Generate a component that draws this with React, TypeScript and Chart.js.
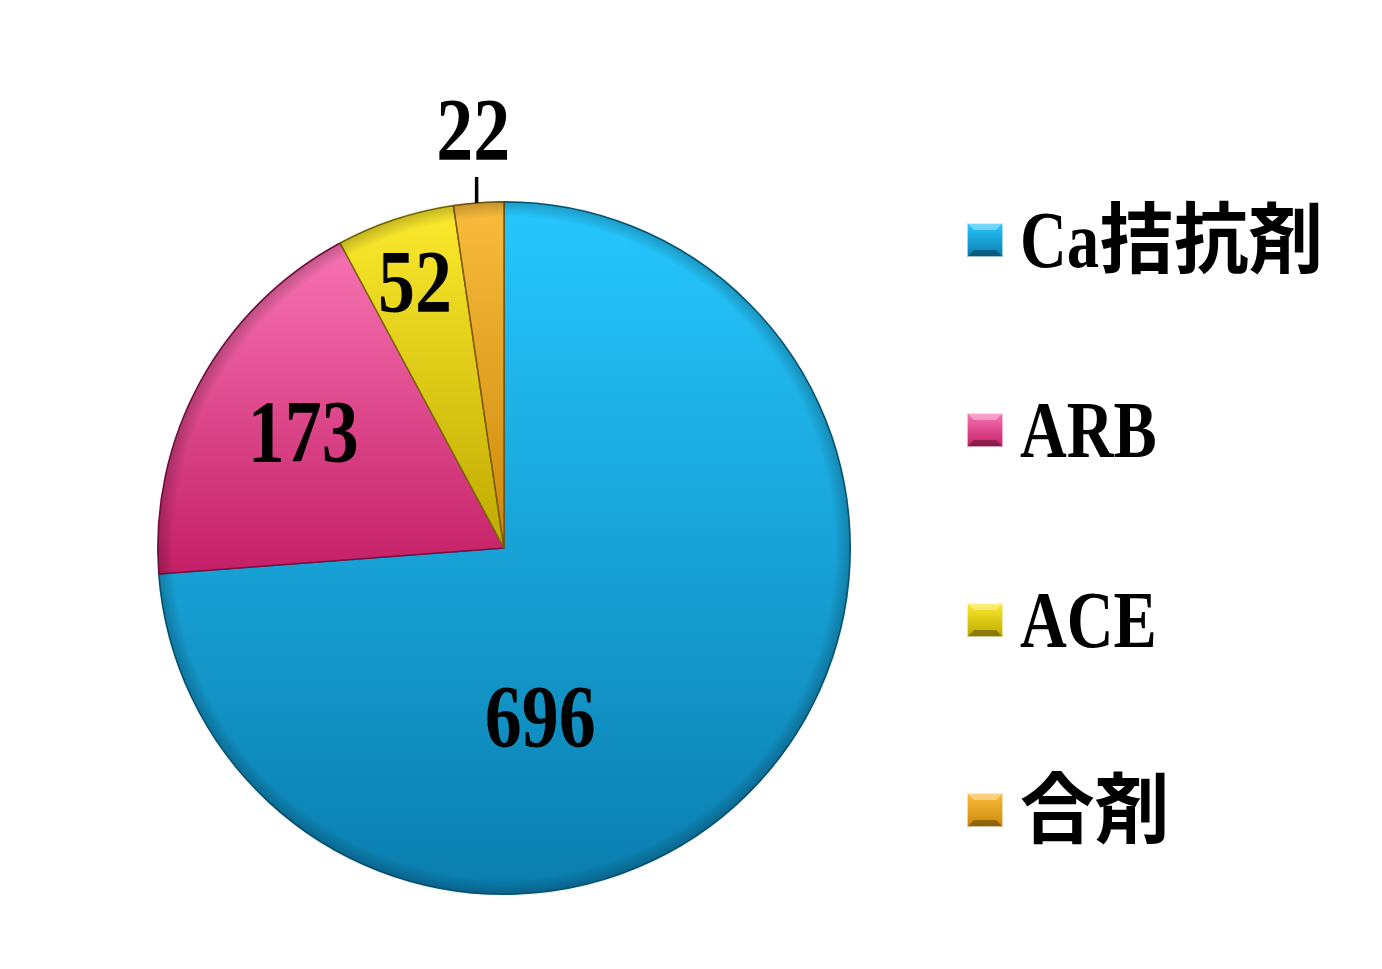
import React, { useEffect, useRef } from "react";
import { Chart, registerables } from "chart.js";

Chart.register(...registerables);

// ---- data ----
const categories = ["Ca拮抗剤", "ARB", "ACE", "合剤"];
const values = [696, 173, 52, 22];
const topColors = ["#26C8FF", "#F874B3", "#FCEA2E", "#F9BC3C"];
const bottomColors = ["#0A7DAE", "#C41F66", "#BFAA00", "#CC8A0C"];
const edgeColors = ["#06597c", "#7e0f40", "#7a6c00", "#7f5406"];

const W = 1382;
const H = 969;

const isCJK = (s: string) => /[\u3000-\u9fff\uff00-\uffef]/.test(s);

function drawMixed(ctx: CanvasRenderingContext2D, text: string, x: number, baseline: number) {
  const runs = text.match(/[\u3000-\u9fff\uff00-\uffef]+|[^\u3000-\u9fff\uff00-\uffef]+/g) || [];
  let cx = x;
  for (const run of runs) {
    const cjk = isCJK(run);
    const font = cjk ? 'bold 77px "Noto Sans CJK JP"' : 'bold 80px "Liberation Serif"';
    const sx = cjk ? 0.97 : 0.81;
    ctx.save();
    ctx.font = font;
    ctx.textBaseline = "alphabetic";
    ctx.textAlign = "left";
    ctx.fillStyle = "#000";
    ctx.translate(cx, baseline);
    ctx.scale(sx, 1);
    ctx.fillText(run, 0, 0);
    const w = ctx.measureText(run).width;
    ctx.restore();
    cx += w * sx;
  }
}

function sliceBounds(chart: any, i: number) {
  const a = chart.chartArea;
  const cx = (a.left + a.right) / 2;
  const cy = (a.top + a.bottom) / 2;
  const r = Math.min(a.right - a.left, a.bottom - a.top) / 2;
  const total = values.reduce((s, v) => s + v, 0);
  let start = -Math.PI / 2;
  for (let k = 0; k < i; k++) start += (values[k] / total) * Math.PI * 2;
  const end = start + (values[i] / total) * Math.PI * 2;
  const ys = [cy, cy + r * Math.sin(start), cy + r * Math.sin(end)];
  for (const t of [-Math.PI / 2, Math.PI / 2, (3 * Math.PI) / 2]) {
    if (t >= start && t <= end) ys.push(cy + r * Math.sin(t));
  }
  return { y0: Math.min(...ys), y1: Math.max(...ys) };
}

const labelAngleFrac = [0.632, 0.52, 0.49, 0.5];
const labelRadiusFrac = [0.5, 0.67, 0.81, 1.21];

const labelPlugin = {
  id: "valueLabels",
  afterDatasetsDraw(chart: any) {
    const ctx = chart.ctx as CanvasRenderingContext2D;
    const meta = chart.getDatasetMeta(0);
    meta.data.forEach((arc: any, i: number) => {
      const { x, y, startAngle, endAngle, outerRadius } = arc.getProps(
        ["x", "y", "startAngle", "endAngle", "outerRadius"],
        true
      );
      const ang = startAngle + (endAngle - startAngle) * labelAngleFrac[i];
      const rr = outerRadius * labelRadiusFrac[i];
      const lx = x + Math.cos(ang) * rr;
      const ly = y + Math.sin(ang) * rr;
      if (labelRadiusFrac[i] > 1) {
        const mid = startAngle + (endAngle - startAngle) * 0.46;
        ctx.save();
        ctx.strokeStyle = "#000";
        ctx.lineWidth = 3.5;
        ctx.beginPath();
        const px = x + Math.cos(mid) * outerRadius;
        ctx.moveTo(px, y + Math.sin(mid) * outerRadius);
        ctx.lineTo(px, y + Math.sin(mid) * outerRadius * 1.075);
        ctx.stroke();
        ctx.restore();
      }
      const size = 88;
      ctx.save();
      ctx.font = `bold ${size}px "Liberation Serif"`;
      ctx.textAlign = "center";
      ctx.textBaseline = "alphabetic";
      ctx.fillStyle = "#000";
      ctx.translate(lx, ly + size * 0.33);
      ctx.scale(0.84, 1);
      ctx.fillText(String(values[i]), 0, 0);
      ctx.restore();
    });
  },
};

const legendPlugin = {
  id: "sideLegend",
  afterDraw(chart: any) {
    const ctx = chart.ctx as CanvasRenderingContext2D;
    const boxX = 967;
    const boxW = 36;
    const boxH = 34;
    const firstBaseline = 267;
    const step = 190;
    categories.forEach((label, i) => {
      const base = firstBaseline + step * i;
      const by = base - 27 - boxH / 2;
      const g = ctx.createLinearGradient(0, by, 0, by + boxH);
      g.addColorStop(0, topColors[i]);
      g.addColorStop(1, bottomColors[i]);
      ctx.save();
      ctx.fillStyle = g;
      ctx.fillRect(boxX, by, boxW, boxH);
      // bevel
      ctx.fillStyle = "rgba(255,255,255,0.35)";
      ctx.beginPath();
      ctx.moveTo(boxX, by);
      ctx.lineTo(boxX + boxW, by);
      ctx.lineTo(boxX + boxW - 7, by + 7);
      ctx.lineTo(boxX + 7, by + 7);
      ctx.closePath();
      ctx.fill();
      ctx.fillStyle = "rgba(0,0,0,0.3)";
      ctx.beginPath();
      ctx.moveTo(boxX, by + boxH);
      ctx.lineTo(boxX + boxW, by + boxH);
      ctx.lineTo(boxX + boxW - 7, by + boxH - 7);
      ctx.lineTo(boxX + 7, by + boxH - 7);
      ctx.closePath();
      ctx.fill();
      ctx.strokeStyle = "rgba(255,255,255,0.6)";
      ctx.lineWidth = 1;
      ctx.strokeRect(boxX + 0.5, by + 0.5, boxW - 1, boxH - 1);
      ctx.restore();
      drawMixed(ctx, label, 1020, base);
    });
  },
};

const rimPlugin = {
  id: "rim",
  afterDatasetsDraw(chart: any) {
    const ctx = chart.ctx as CanvasRenderingContext2D;
    const meta = chart.getDatasetMeta(0);
    const arc0 = meta.data[0] as any;
    if (!arc0) return;
    const { x, y, outerRadius } = arc0.getProps(["x", "y", "outerRadius"], true);
    ctx.save();
    const g = ctx.createRadialGradient(x, y, outerRadius * 0.955, x, y, outerRadius);
    g.addColorStop(0, "rgba(0,0,0,0)");
    g.addColorStop(1, "rgba(0,0,0,0.22)");
    ctx.fillStyle = g;
    ctx.beginPath();
    ctx.arc(x, y, outerRadius, 0, Math.PI * 2);
    ctx.fill();
    ctx.restore();
  },
};

export default function App() {
  const ref = useRef<HTMLCanvasElement | null>(null);
  useEffect(() => {
    document.body.style.margin = "0";
    const canvas = ref.current;
    if (!canvas) return;
    const chart = new Chart(canvas, {
      type: "pie",
      data: {
        labels: categories,
        datasets: [
          {
            data: values,
            backgroundColor: (c: any) => {
              const ch = c.chart;
              if (!ch.chartArea) return topColors[c.dataIndex];
              const { y0, y1 } = sliceBounds(ch, c.dataIndex);
              const g = ch.ctx.createLinearGradient(0, y0, 0, y1);
              g.addColorStop(0, topColors[c.dataIndex]);
              g.addColorStop(1, bottomColors[c.dataIndex]);
              return g;
            },
            borderColor: edgeColors,
            borderWidth: 1.5,
          },
        ],
      },
      options: {
        responsive: false,
        animation: false,
        devicePixelRatio: 1,
        layout: { padding: { left: 157, right: 531, top: 201, bottom: 74 } },
        plugins: {
          legend: { display: false },
          tooltip: { enabled: false },
        },
      },
      plugins: [rimPlugin, labelPlugin, legendPlugin],
    });
    return () => chart.destroy();
  }, []);
  return (
    <div style={{ width: W, height: H, background: "#fff" }}>
      <canvas ref={ref} width={W} height={H} style={{ display: "block" }} />
    </div>
  );
}
